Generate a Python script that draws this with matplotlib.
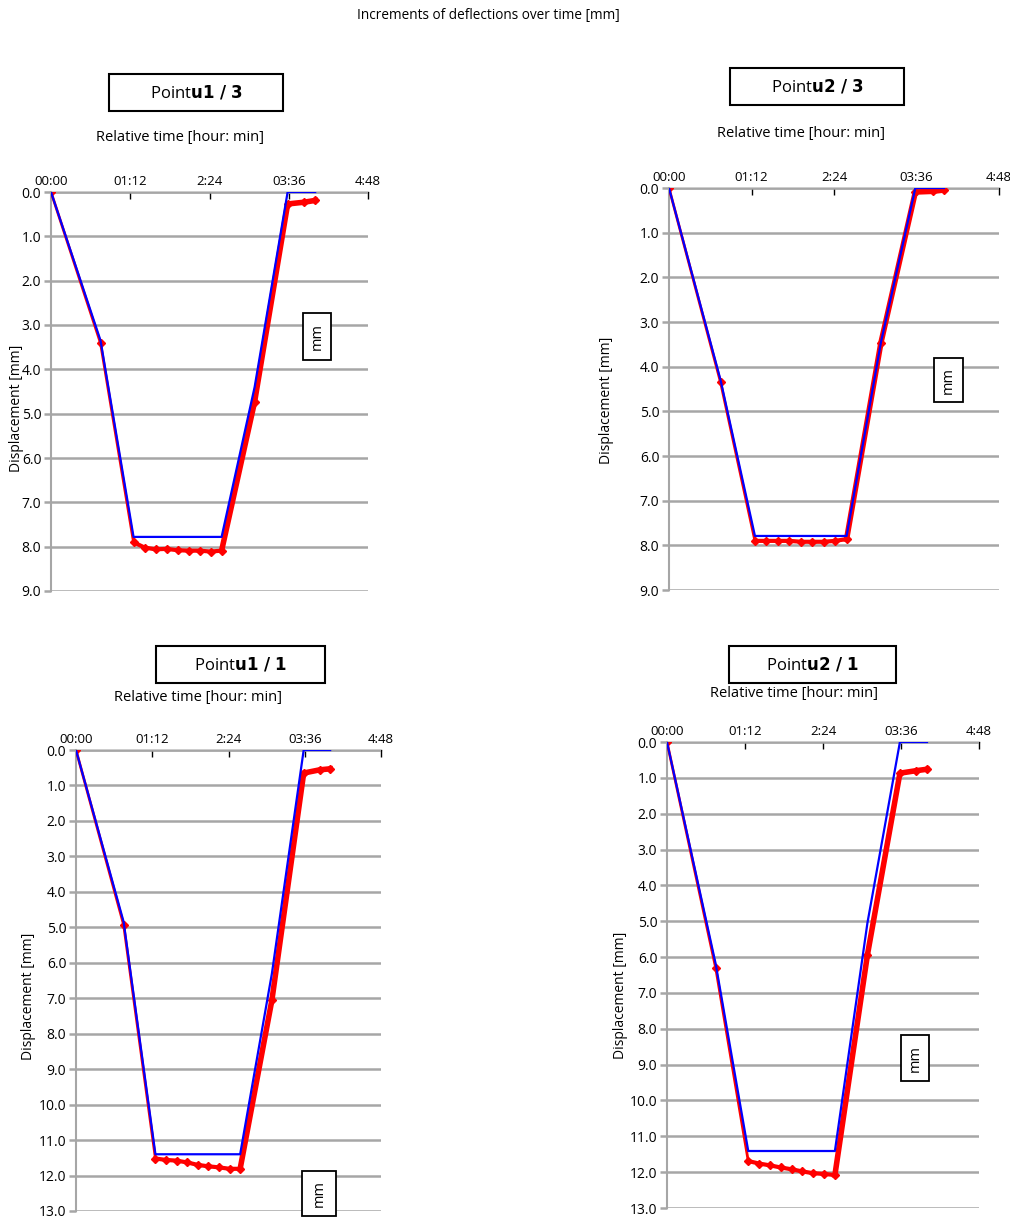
import numpy as np
from matplotlib import pyplot as plt
from matplotlib.patches import Rectangle

W, H = 1010, 1220

# time axis (minutes) and labels
tick_minutes = [0, 72, 144, 216, 288]
tick_labels = ["00:00", "01:12", "2:24", "03:36", "4:48"]

# measured (red) readings
t_meas = [0, 45, 75, 85, 95, 105, 115, 125, 135, 145, 155, 185, 215, 230, 240]
meas_u13 = [0, 3.41, 7.90, 8.02, 8.06, 8.05, 8.08, 8.09, 8.09, 8.11, 8.09, 4.73, 0.27, 0.23, 0.19]
meas_u23 = [0, 4.35, 7.90, 7.90, 7.90, 7.90, 7.92, 7.92, 7.92, 7.90, 7.86, 3.46, 0.09, 0.075, 0.045]
meas_u11 = [0, 4.93, 11.52, 11.56, 11.58, 11.63, 11.70, 11.74, 11.77, 11.81, 11.81, 7.05, 0.65, 0.56, 0.53]
meas_u21 = [0, 6.31, 11.69, 11.76, 11.81, 11.87, 11.92, 11.98, 12.03, 12.05, 12.08, 5.94, 0.87, 0.80, 0.76]

# reference (blue) curve
t_ref = [0, 45, 75, 155, 185, 215, 240]
ref_u13 = [0, 3.35, 7.78, 7.78, 4.4, 0, 0]
ref_u23 = [0, 4.3, 7.79, 7.79, 3.45, 0, 0]
ref_u11 = [0, 4.85, 11.40, 11.40, 6.3, 0, 0]
ref_u21 = [0, 6.2, 11.41, 11.41, 5.05, 0, 0]

plt.rcParams['font.family'] = ['Open Sans', 'DejaVu Sans']
GRID = '#a6a6a6'


def fx(x):
    return x / W


def fy(y):
    return 1 - y / H


def pixel_box(fig, l, t, r, b, lw):
    fig.add_artist(Rectangle((fx(l), fy(b)), (r - l) / W, (b - t) / H,
                             transform=fig.transFigure, fc='white', ec='black',
                             lw=lw, zorder=5))
    return (l + r) / 2, (t + b) / 2


def panel(fig, box, ymax, meas, ref, name, title_box, sub_xy, ylab_xy, mm_box):
    left, top, right, bottom = box
    ax = fig.add_axes([fx(left), fy(bottom), (right - left) / W, (bottom - top) / H])
    ax.set_xlim(0, 288)
    ax.set_ylim(ymax, 0)
    ax.xaxis.tick_top()
    ax.set_xticks(tick_minutes)
    ax.set_xticklabels(tick_labels, fontsize=9.5)
    ax.tick_params(axis='x', direction='in', length=5, width=1, pad=3, color='black')
    ax.set_yticks(np.arange(0, ymax + 1))
    ax.set_yticklabels([f"{v:.1f}" for v in np.arange(0, ymax + 1)], fontsize=10)
    ax.tick_params(axis='y', direction='out', length=5, width=1.8, color=GRID, pad=2)
    ax.grid(axis='y', color=GRID, lw=1.8)
    ax.grid(axis='x', visible=False)
    for s in ['right', 'bottom']:
        ax.spines[s].set_visible(False)
    ax.spines['top'].set_color('black')
    ax.spines['top'].set_linewidth(1)
    ax.spines['top'].set_zorder(1.5)
    ax.spines['left'].set_color(GRID)
    ax.spines['left'].set_linewidth(1.5)

    ax.plot(t_meas[:3], meas[:3], color='red', lw=2, zorder=3)
    ax.plot(t_meas[2:11], meas[2:11], color='red', lw=3, zorder=3)
    ax.plot(t_meas[10:], meas[10:], color='red', lw=4, zorder=3)
    ax.plot(t_meas, meas, ls='none', marker='D', ms=4, color='red', zorder=3)
    ax.plot(t_ref, ref, color='blue', lw=1.6, zorder=4)

    cx, cy = pixel_box(fig, *title_box, lw=1.5)
    fig.text(fx(cx), fy(cy), "Point$\\mathbf{" + name + "}$",
             ha='center', va='center', fontsize=12, zorder=6)
    fig.text(fx(sub_xy[0]), fy(sub_xy[1]), "Relative time [hour: min]",
             ha='center', va='center', fontsize=10.5)
    fig.text(fx(ylab_xy[0]), fy(ylab_xy[1]), "Displacement [mm]", rotation=90,
             ha='center', va='center', fontsize=10)
    mx, my = pixel_box(fig, *mm_box, lw=1.3)
    fig.text(fx(mx), fy(my), "mm", rotation=90, ha='center', va='center',
             fontsize=10.5, zorder=6)
    return ax


fig = plt.figure(figsize=(W / 100, H / 100), dpi=100)
fig.text(fx(488), fy(16), "Increments of deflections over time [mm]",
         ha='center', va='center', fontsize=9.8,
         family=['Liberation Sans Narrow', 'Open Sans', 'DejaVu Sans'])

panel(fig, (51, 192, 368, 591), 9, meas_u13, ref_u13, "u1\\ /\\ 3",
      (109, 74, 283, 111), (180, 137), (17, 408), (303, 313, 331, 360))
panel(fig, (669, 188, 999, 590), 9, meas_u23, ref_u23, "u2\\ /\\ 3",
      (730, 68, 904, 105), (801, 133), (607, 400), (934, 358, 963, 402))
panel(fig, (76, 750, 381, 1211), 13, meas_u11, ref_u11, "u1\\ /\\ 1",
      (156, 646, 325, 683), (198, 698), (29, 996), (302, 1171, 336, 1216))
panel(fig, (667, 742, 979, 1208), 13, meas_u21, ref_u21, "u2\\ /\\ 1",
      (729, 646, 896, 683), (794, 694), (620, 995), (901, 1035, 929, 1081))

fig.savefig("out.png", dpi=100)
